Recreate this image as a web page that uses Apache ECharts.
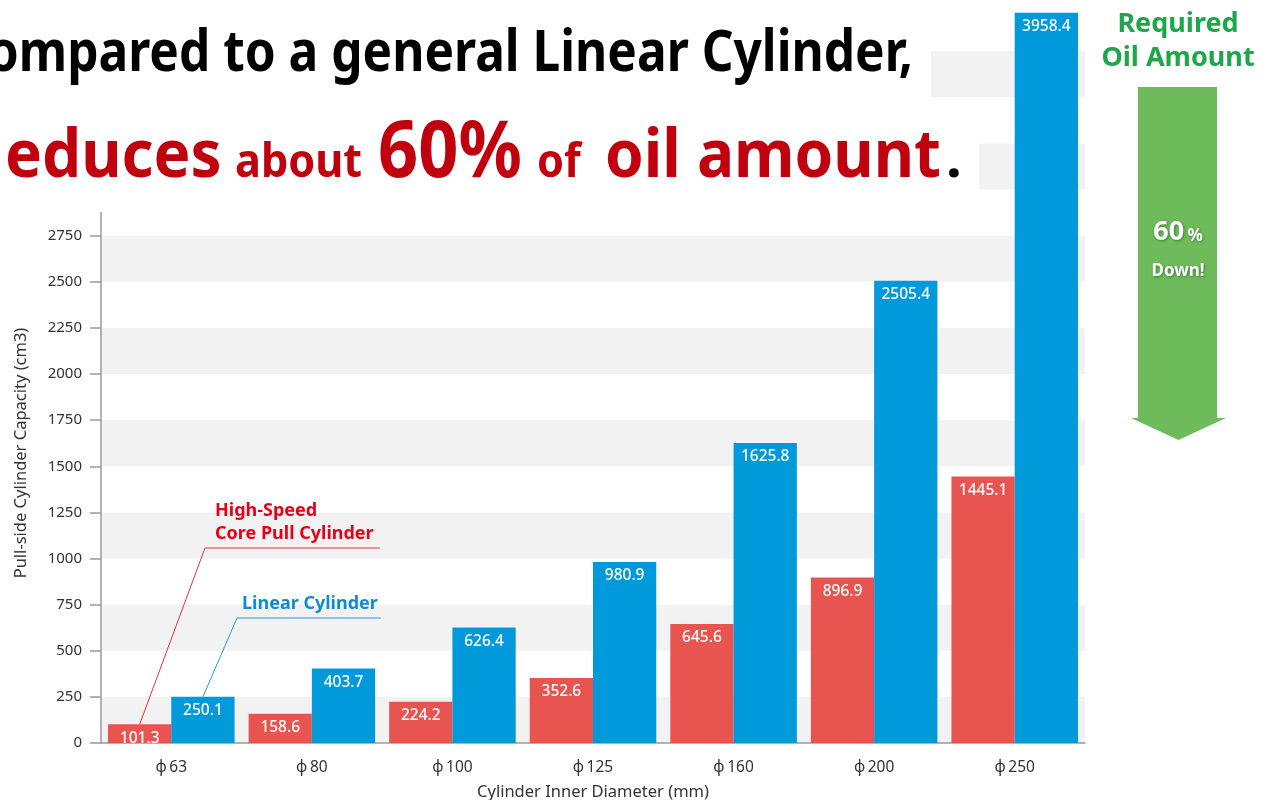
<!DOCTYPE html>
<html>
<head>
<meta charset="utf-8">
<script src="https://cdn.jsdelivr.net/npm/echarts@6/dist/echarts.min.js"></script>
<style>
  html, body { margin: 0; padding: 0; background: #fff; }
  #chart { width: 1272px; height: 800px; }
</style>
</head>
<body>
<div id="chart"></div>
<script>
// Cylinder bores and pull-side capacity (cm3)
const categories = ['\u03d5\u200963', '\u03d5\u200980', '\u03d5\u2009100', '\u03d5\u2009125', '\u03d5\u2009160', '\u03d5\u2009200', '\u03d5\u2009250'];
const coreCylinder = [101.3, 158.6, 224.2, 352.6, 645.6, 896.9, 1445.1];
const linearCylinder = [250.1, 403.7, 626.4, 980.9, 1625.8, 2505.4, 3958.4];
const yTickValues = [0, 250, 500, 750, 1000, 1250, 1500, 1750, 2000, 2250, 2500, 2750];

const FONT = "'Noto Sans', 'Open Sans', sans-serif";
const RED = '#e85551';
const BLUE = '#0099d9';
const AXIS = '#9a9a9a';

const chart = echarts.init(document.getElementById('chart'), null, { renderer: 'canvas' });

const barLabel = {
  show: true,
  position: 'insideTop',
  distance: 6,
  color: '#fff',
  fontFamily: FONT,
  fontSize: 15.5,
  fontWeight: 500,
  formatter: p => p.value.toFixed(1)
};

chart.setOption({
  animation: false,
  textStyle: { fontFamily: FONT },
  grid: [
    { left: 101, right: 187, top: 5, bottom: 57, outerBoundsMode: 'none' },      // bars + striped bands, 0–4000
    { left: 101, right: 187, top: 212.6, bottom: 57, outerBoundsMode: 'none' }   // visible value axis, 0–2875
  ],
  xAxis: [
    {
      gridIndex: 0,
      type: 'category',
      data: categories,
      axisLine: { lineStyle: { color: AXIS, width: 1.5 } },
      axisTick: { length: 10, lineStyle: { color: AXIS, width: 1.5 } },
      axisLabel: { fontSize: 15.5, color: '#333', margin: 17, fontFamily: FONT },
      name: 'Cylinder Inner Diameter (mm)',
      nameLocation: 'middle',
      nameGap: 41,
      nameTextStyle: { fontSize: 16.5, color: '#333', fontFamily: FONT }
    },
    { gridIndex: 1, type: 'category', data: categories, show: false }
  ],
  yAxis: [
    {
      gridIndex: 0,
      type: 'value',
      min: 0,
      max: 4000,
      interval: 250,
      axisLine: { show: false },
      axisTick: { show: false },
      axisLabel: { show: false },
      splitLine: { show: false },
      splitArea: { show: true, areaStyle: { color: ['#f2f2f2', 'rgba(255,255,255,0)'] } }
    },
    {
      gridIndex: 1,
      type: 'value',
      min: 0,
      max: 2875,
      interval: 250,
      axisLine: { show: true, lineStyle: { color: AXIS, width: 1.5 } },
      axisTick: { show: true, length: 11, customValues: yTickValues, lineStyle: { color: AXIS, width: 1.5 } },
      axisLabel: {
        customValues: yTickValues, fontSize: 15, color: '#333', margin: 19, fontFamily: FONT,
        formatter: v => String(v)
      },
      splitLine: { show: false },
      splitArea: { show: false }
    }
  ],
  series: [
    {
      name: 'High-Speed Core Pull Cylinder',
      type: 'bar',
      xAxisIndex: 0,
      yAxisIndex: 0,
      data: coreCylinder,
      barGap: '0%',
      barCategoryGap: '10%',
      itemStyle: { color: RED },
      label: barLabel
    },
    {
      name: 'Linear Cylinder',
      type: 'bar',
      xAxisIndex: 0,
      yAxisIndex: 0,
      data: linearCylinder,
      barGap: '0%',
      barCategoryGap: '10%',
      itemStyle: { color: BLUE },
      label: barLabel
    }
  ]
});

// top-centre point of a rendered bar
function barTop(seriesIndex, dataIndex) {
  const layout = chart.getModel().getSeriesByIndex(seriesIndex).getData().getItemLayout(dataIndex);
  return [layout.x + layout.width / 2, Math.min(layout.y, layout.y + layout.height)];
}

// one headline word, placed by its left edge and baseline
function word(text, x, baseline, size, scaleX, fill) {
  return {
    type: 'text',
    x: x,
    y: baseline - 0.27 * size,
    scaleX: scaleX,
    z: 10,
    style: {
      text: text, x: 0, y: 0,
      fill: fill,
      font: 'bold ' + size + 'px ' + FONT,
      align: 'left', verticalAlign: 'middle'
    }
  };
}

const redStart = barTop(0, 0);
const blueStart = barTop(1, 0);
const TITLE_RED = '#c1000f';
const SHADOW = { textShadowColor: 'rgba(0,0,0,0.35)', textShadowBlur: 3, textShadowOffsetX: 1, textShadowOffsetY: 1 };

const graphics = [
  // white panels behind the headline
  { type: 'rect', z: 1, silent: true, shape: { x: 0, y: 36, width: 931, height: 70 }, style: { fill: '#fff' } },
  { type: 'rect', z: 1, silent: true, shape: { x: 0, y: 130, width: 979, height: 66 }, style: { fill: '#fff' } },

  // headline, line 1
  {
    type: 'text', x: 913, y: 70 - 0.27 * 57, scaleX: 0.87, z: 10,
    style: {
      text: 'Compared to a general Linear Cylinder,', x: 0, y: 0,
      fill: '#000', font: 'bold 57px ' + FONT, align: 'right', verticalAlign: 'middle'
    }
  },
  // headline, line 2
  word('educes', 5, 176, 66, 0.94, TITLE_RED),
  word('about', 235, 176, 47, 0.92, TITLE_RED),
  word('60%', 378, 176, 79, 0.89, TITLE_RED),
  word('of', 537, 176, 47, 0.92, TITLE_RED),
  word('oil amount', 605, 176, 66, 0.94, TITLE_RED),
  word('.', 946, 176, 56, 1, '#000'),

  // series call-outs
  {
    type: 'polyline', z: 10, silent: true,
    shape: { points: [redStart, [205, 548], [380, 548]] },
    style: { stroke: '#e8303a', lineWidth: 1, fill: null }
  },
  {
    type: 'polyline', z: 10, silent: true,
    shape: { points: [blueStart, [237, 618], [381, 618]] },
    style: { stroke: '#1ea0e0', lineWidth: 1, fill: null }
  },
  {
    type: 'text', x: 215, y: 511, z: 10,
    style: { text: 'High-Speed', fill: '#e50019', font: 'bold 18px ' + FONT, align: 'left', verticalAlign: 'middle' }
  },
  {
    type: 'text', x: 215, y: 534, z: 10,
    style: { text: 'Core Pull Cylinder', fill: '#e50019', font: 'bold 18px ' + FONT, align: 'left', verticalAlign: 'middle' }
  },
  {
    type: 'text', x: 242, y: 604, z: 10,
    style: { text: 'Linear Cylinder', fill: '#0e8bd5', font: 'bold 18px ' + FONT, align: 'left', verticalAlign: 'middle' }
  },

  // y-axis title
  {
    type: 'text', x: 21, y: 453, rotation: Math.PI / 2, z: 10,
    style: { text: 'Pull-side Cylinder Capacity (cm3)', fill: '#333', font: '16.5px ' + FONT, align: 'center', verticalAlign: 'middle' }
  },

  // "Required Oil Amount" arrow
  {
    type: 'text', x: 1178, y: 24, z: 10,
    style: { text: 'Required', fill: '#1da64a', font: 'bold 27px ' + FONT, align: 'center', verticalAlign: 'middle' }
  },
  {
    type: 'text', x: 1178, y: 58, z: 10,
    style: { text: 'Oil Amount', fill: '#1da64a', font: 'bold 27px ' + FONT, align: 'center', verticalAlign: 'middle' }
  },
  { type: 'rect', z: 5, silent: true, shape: { x: 1138, y: 87, width: 79, height: 331 }, style: { fill: '#6dbb5b' } },
  { type: 'polygon', z: 5, silent: true, shape: { points: [[1131, 418], [1226, 418], [1178.5, 440]] }, style: { fill: '#6dbb5b' } },
  {
    type: 'text', x: 1178, y: 232, z: 10,
    style: Object.assign({
      text: '{n|60} {p|%}', align: 'center', verticalAlign: 'middle', fill: '#fff',
      rich: {
        n: Object.assign({ font: 'bold 27px ' + FONT, fill: '#fff', verticalAlign: 'bottom' }, SHADOW),
        p: Object.assign({ font: 'bold 17px ' + FONT, fill: '#fff', verticalAlign: 'bottom', padding: [0, 0, 1, 0] }, SHADOW)
      }
    }, SHADOW)
  },
  {
    type: 'text', x: 1178, y: 271, z: 10,
    style: Object.assign({
      text: 'Down!', fill: '#fff', font: 'bold 17px ' + FONT, align: 'center', verticalAlign: 'middle'
    }, SHADOW)
  }
];

chart.setOption({ graphic: graphics });
</script>
</body>
</html>
